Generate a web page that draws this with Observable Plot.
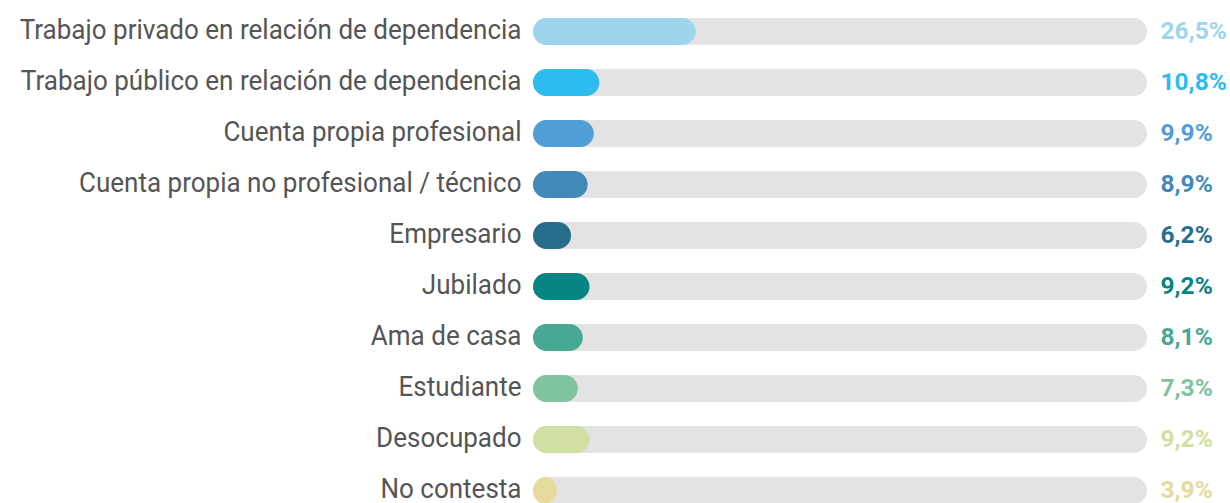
<!DOCTYPE html>
<html>
<head>
<meta charset="utf-8">
<script src="https://cdn.jsdelivr.net/npm/d3@7"></script>
<script src="https://cdn.jsdelivr.net/npm/@observablehq/plot@0.6"></script>
<style>
  html, body { margin: 0; padding: 0; background: #fff; }
  #chart svg { display: block; }
</style>
</head>
<body>
<div id="chart"></div>
<script>
const categories = [
  "Trabajo privado en relación de dependencia",
  "Trabajo público en relación de dependencia",
  "Cuenta propia profesional",
  "Cuenta propia no profesional / técnico",
  "Empresario",
  "Jubilado",
  "Ama de casa",
  "Estudiante",
  "Desocupado",
  "No contesta"
];
const values = [26.5, 10.8, 9.9, 8.9, 6.2, 9.2, 8.1, 7.3, 9.2, 3.9];
const valueLabels = ["26,5%", "10,8%", "9,9%", "8,9%", "6,2%", "9,2%", "8,1%", "7,3%", "9,2%", "3,9%"];
const colors = ["#9dd5ec", "#2dbcee", "#519dd6", "#4189b8", "#266e8a", "#068583", "#47a894", "#7fc39f", "#d0dfa2", "#e5db9c"];

const data = categories.map((c, i) => ({cat: c, value: values[i], label: valueLabels[i], color: colors[i], total: 100}));

const font = "Roboto, 'Noto Sans', sans-serif";

const chart = Plot.plot({
  width: 1230,
  height: 503,
  marginLeft: 533,
  marginRight: 83,
  marginTop: 0,
  marginBottom: 0,
  style: {fontFamily: font, background: "#fff"},
  x: {domain: [0, 100], axis: null},
  y: {domain: categories, range: [3.7, 518.7], paddingInner: 0.476, paddingOuter: 0.238, axis: null},
  marks: [
    Plot.barX(data, {y: "cat", x1: 0, x2: "total", fill: "#e3e3e3", rx: 13.5}),
    Plot.barX(data, {y: "cat", x1: 0, x2: "value", fill: "color", rx: 13.5}),
    Plot.text(data, {y: "cat", x: 0, text: "cat", textAnchor: "end", dx: -12, dy: -2, fill: "#555", fontSize: 28}),
    Plot.text(data, {y: "cat", x: "total", text: "label", textAnchor: "start", dx: 13, dy: -1, fill: "color", fontSize: 24.5, fontWeight: "bold"})
  ]
});
// condense the category labels horizontally (reference uses a condensed face)
const groups = chart.querySelectorAll('g[aria-label="text"]');
if (groups.length) {
  groups[0].querySelectorAll("text").forEach(t => {
    const tr = t.getAttribute("transform");
    if (tr) {
      t.setAttribute("transform", tr + " scale(0.93,1)");
    } else {
      const x = t.getAttribute("x") || 0, y = t.getAttribute("y") || 0;
      t.removeAttribute("x"); t.removeAttribute("y");
      t.setAttribute("transform", `translate(${x},${y}) scale(0.93,1)`);
    }
  });
}
document.getElementById("chart").appendChild(chart);
</script>
</body>
</html>
